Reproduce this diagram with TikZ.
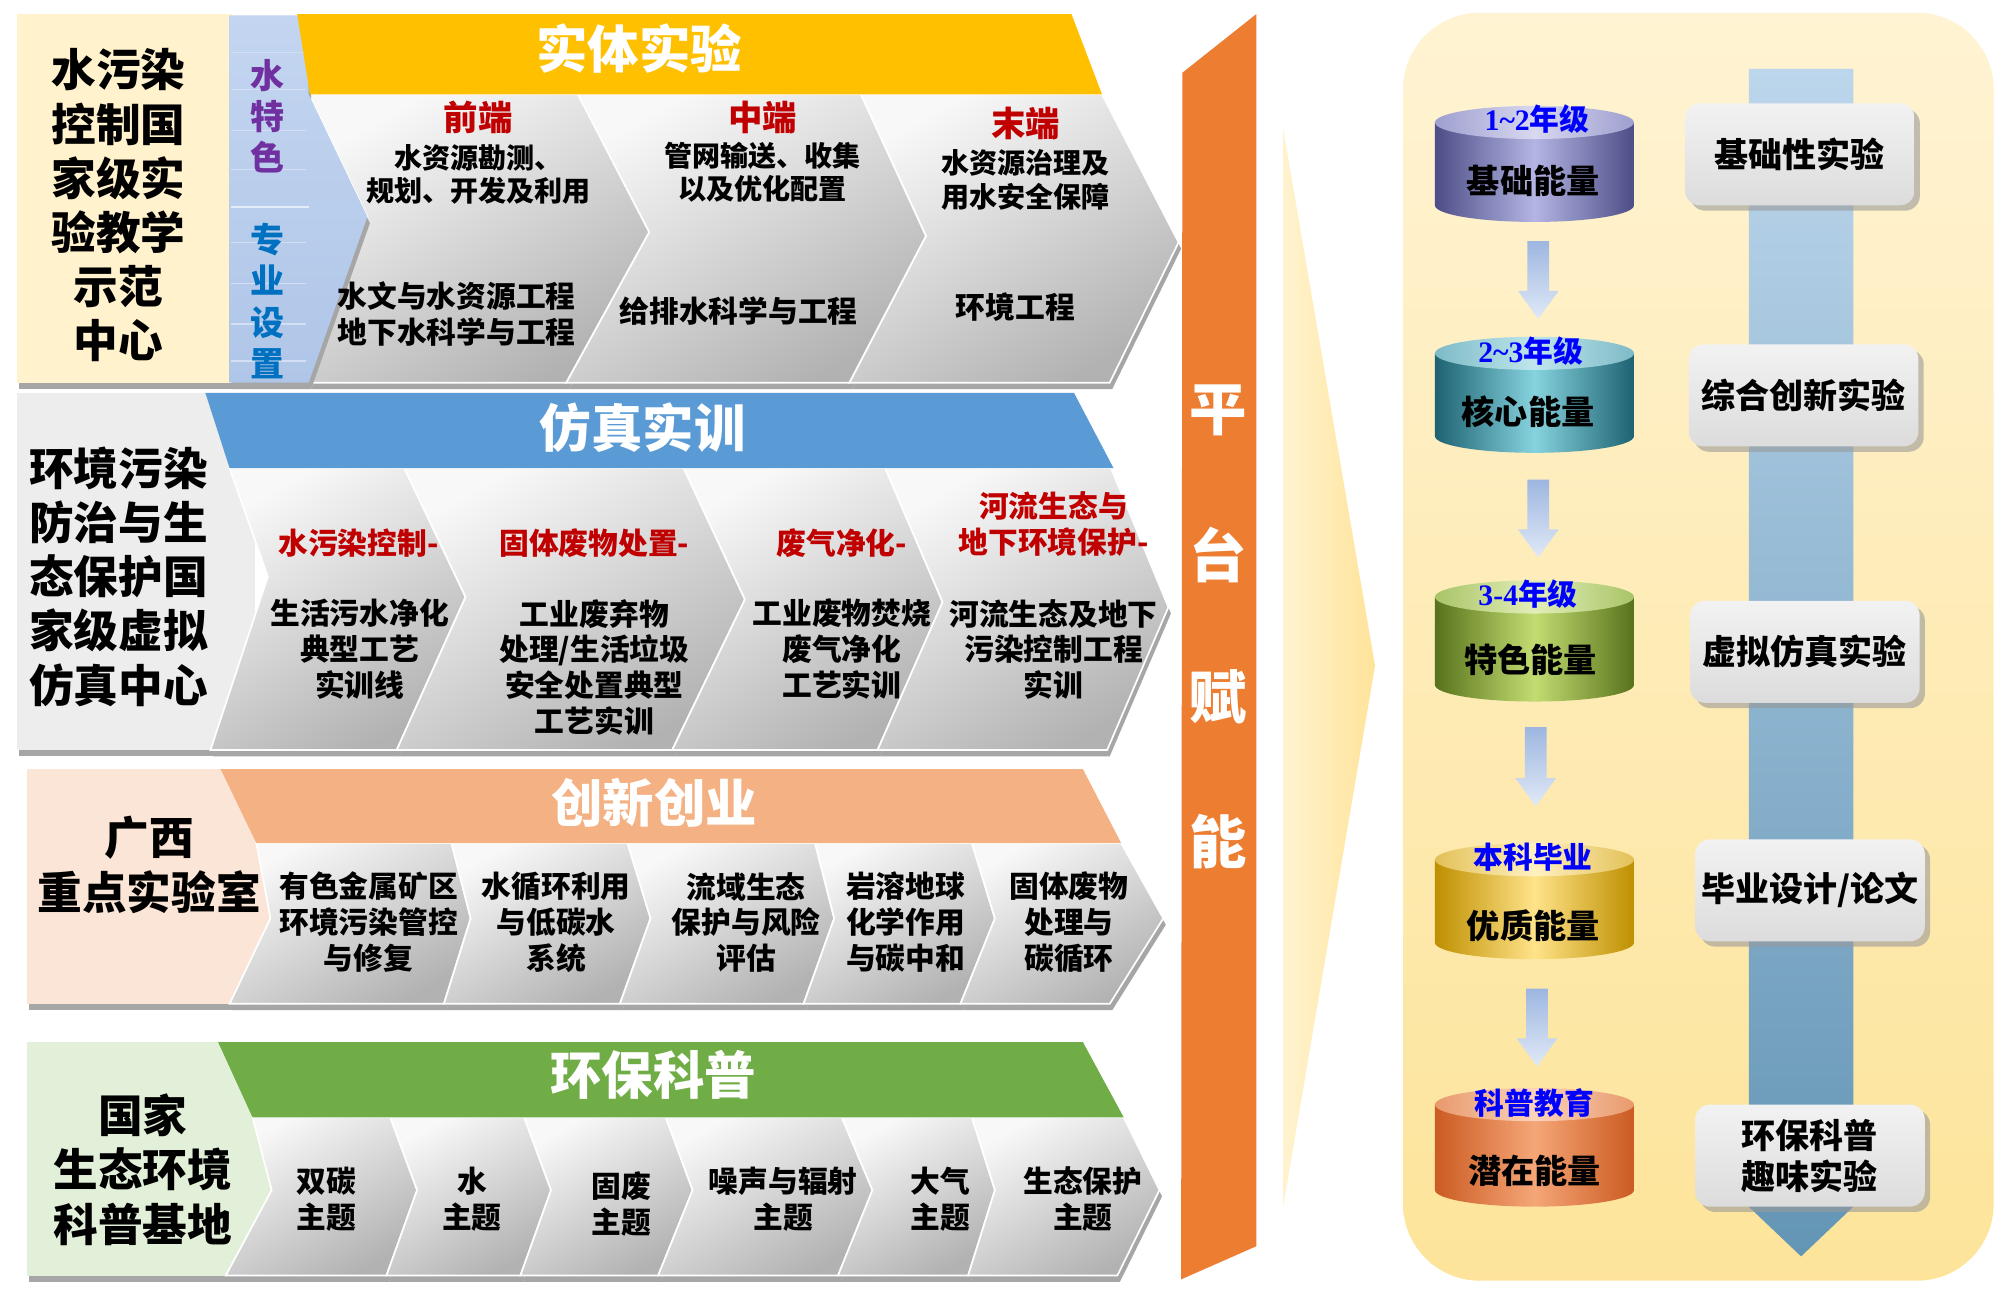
\documentclass[tikz,border=0pt]{standalone}
\usepackage{fontspec}
\newfontfamily\cjk{Noto Sans CJK SC}
\newfontfamily\numf{Liberation Serif}
\usetikzlibrary{shadows}
\definecolor{cream}{HTML}{FFF2CC}
\definecolor{stripTop}{HTML}{C3D5F0}
\definecolor{stripBot}{HTML}{B0C6E8}
\definecolor{lgray}{HTML}{EDEDED}
\definecolor{peach}{HTML}{FBE5D6}
\definecolor{lgreen}{HTML}{E2F0D9}
\definecolor{banyellow}{HTML}{FFC000}
\definecolor{banblue}{HTML}{5B9BD5}
\definecolor{banpeach}{HTML}{F4B183}
\definecolor{bangreen}{HTML}{70AD47}
\definecolor{myred}{HTML}{C00000}
\definecolor{mypurple}{HTML}{7030A0}
\definecolor{myblue}{HTML}{0070C0}
\definecolor{yearblue}{HTML}{0000FF}
\definecolor{barorange}{HTML}{ED7D31}
\definecolor{chevlight}{HTML}{F8F8F8}
\definecolor{chevdark}{HTML}{B2B2B2}
\definecolor{shadowgray}{HTML}{A6A6A6}
\definecolor{panelTop}{HTML}{FFF3D3}
\definecolor{panelBot}{HTML}{FDE49A}
\definecolor{wedgeL}{HTML}{FFF3CF}
\definecolor{wedgeR}{HTML}{FFE39A}
\definecolor{bandTop}{HTML}{BCD6EC}
\definecolor{bandBot}{HTML}{6395B5}
\definecolor{arrTop}{HTML}{9DB6E0}
\definecolor{arrBot}{HTML}{E0E9F7}
\definecolor{boxTop}{HTML}{F2F2F2}
\definecolor{boxBot}{HTML}{DCDCDC}
\tikzset{
  every node/.style={inner sep=0pt, align=center},
  chev/.style={top color=chevlight, bottom color=chevdark, shading angle=30, draw=white, line width=0.8pt},
  body/.style={font=\cjk\bfseries\fontsize{14}{16.8}\selectfont, text=black},
  bodyb/.style={font=\cjk\bfseries\fontsize{13.2}{15.6}\selectfont, text=black},
  redhead/.style={font=\cjk\bfseries\fontsize{16.2}{18}\selectfont, text=myred},
  lefttxt/.style={font=\cjk\bfseries\fontsize{21}{25.5}\selectfont, text=black},
  bantxt/.style={font=\cjk\bfseries\fontsize{24.2}{28}\selectfont, text=white},
  striptxt/.style={font=\cjk\bfseries\fontsize{16}{19.4}\selectfont},
  bartxt/.style={font=\cjk\bfseries\fontsize{27}{30}\selectfont, text=white},
  cyltxt/.style={font=\cjk\bfseries\fontsize{15.6}{18}\selectfont, text=black},
  yeartxt/.style={font=\cjk\bfseries\fontsize{14}{16}\selectfont, text=yearblue},
  rbox/.style={font=\cjk\bfseries\fontsize{16}{19.2}\selectfont, text=black,
    rounded corners=7pt, top color=boxTop, bottom color=boxBot,
    minimum width=108pt, minimum height=48pt,
    drop shadow={shadow xshift=2.5pt, shadow yshift=-2.5pt, fill=black!40, opacity=0.6}},
}
\newcommand\chevron[1]{\fill[shadowgray,shift={(2,-5)}] #1 -- cycle; \path[chev] #1 -- cycle;}
\newcommand\cyl[6]{%
  \definecolor{cyE}{HTML}{#3}\definecolor{cyM}{HTML}{#4}\definecolor{cyL}{HTML}{#5}\definecolor{cyT}{HTML}{#6}%
  \path[left color=cyE, right color=cyE, middle color=cyM] (1125,-#1-13) -- (1125,-#2+13) arc[start angle=180,end angle=360,x radius=78,y radius=13] -- (1281,-#1-13) -- cycle;
  \path[left color=cyT, right color=cyT, middle color=cyL] (1203,-#1-13) ellipse[x radius=78, y radius=13];
}
\newcommand\dnarrow[3]{\path[top color=arrTop, bottom color=arrBot] (#1-8.5,-#2) -- (#1+8.5,-#2) -- (#1+8.5,-#3+22) -- (#1+16,-#3+22) -- (#1,-#3) -- (#1-16,-#3+22) -- (#1-8.5,-#3+22) -- cycle;}
\begin{document}
\begin{tikzpicture}[x=0.6pt,y=0.6pt]
\useasboundingbox (0,0) rectangle (1568,-1012);
\fill[white] (0,0) rectangle (1568,-1012);

% ================= ROW 1 =================
\fill[shadowgray] (15,-14) rectangle (184,-305);
\fill[cream] (13,-11) rectangle (182,-300);
\chevron{(242,-74) -- (453,-74) -- (509,-182) -- (444,-300) -- (242,-300) -- (288,-170)}
\chevron{(453,-74) -- (675,-74) -- (726,-185) -- (666,-300) -- (444,-300) -- (509,-182)}
\chevron{(675,-74) -- (864,-74) -- (924,-190) -- (870,-300) -- (666,-300) -- (726,-185)}
\fill[shadowgray, shift={(2,-5)}] (180,-12) -- (242,-12) -- (242,-74) -- (288,-170) -- (242,-300) -- (180,-300) -- cycle;
\path[top color=stripTop, bottom color=stripBot] (180,-12) -- (242,-12) -- (242,-74) -- (288,-170) -- (242,-300) -- (180,-300) -- cycle;
\foreach \yy in {41,70,102,133,190,222,254,283} \draw[white!25!stripTop, line width=0.5pt] (181,-\yy) -- (240,-\yy);
\draw[white!55!stripTop, line width=1pt] (181,-162) -- (242,-162);
\fill[banyellow] (233,-11) -- (840,-11) -- (864,-74) -- (243,-74) -- cycle;

\node[lefttxt] (L1) at (93,-161) {水污染\\控制国\\家级实\\验教学\\示范\\中心};
\node[striptxt, text=mypurple] (S1) at (210,-91) {水\\特\\色};
\node[striptxt, text=myblue] (S2) at (210,-236) {专\\业\\设\\置};
\node[bantxt] (T1) at (501,-38) {实体实验};
\node[redhead] (h11) at (375,-92) {前端};
\node[bodyb] (b11) at (375,-137) {水资源勘测、\\规划、开发及利用};
\node[redhead] (h12) at (598,-92) {中端};
\node[bodyb] (b12) at (598,-135) {管网输送、收集\\以及优化配置};
\node[redhead] (h13) at (804,-97) {末端};
\node[bodyb] (b13) at (804,-141) {水资源治理及\\用水安全保障};
\node[body] (b14) at (358,-246) {水文与水资源工程\\地下水科学与工程};
\node[body] (b15) at (579,-244) {给排水科学与工程};
\node[body] (b16) at (796,-241) {环境工程};

% ================= ROW 2 =================
\fill[shadowgray] (15,-311) rectangle (200,-593);
\fill[lgray] (13,-308) rectangle (200,-588);
\chevron{(180,-367) -- (317,-367) -- (365,-468) -- (311,-588) -- (165,-588) -- (210,-452)}
\chevron{(317,-367) -- (536,-367) -- (584,-470) -- (527,-588) -- (311,-588) -- (365,-468)}
\chevron{(536,-367) -- (694,-367) -- (739,-472) -- (688,-588) -- (527,-588) -- (584,-470)}
\chevron{(694,-367) -- (871,-367) -- (916,-476) -- (868,-588) -- (688,-588) -- (739,-472)}
\fill[banblue] (161,-308) -- (842,-308) -- (873,-367) -- (180,-367) -- cycle;

\node[lefttxt] (L2) at (93,-452) {环境污染\\防治与生\\态保护国\\家级虚拟\\仿真中心};
\node[bantxt] (T2) at (504,-335) {仿真实训};
\node[body, text=myred] (h21) at (281,-426) {水污染控制-};
\node[body] (b21) at (282,-509) {生活污水净化\\典型工艺\\实训线};
\node[body, text=myred] (h22) at (466,-426) {固体废物处置-};
\node[body] (b22) at (466,-523) {工业废弃物\\处理/生活垃圾\\安全处置典型\\工艺实训};
\node[body, text=myred] (h23) at (660,-426) {废气净化-};
\node[body] (b23) at (660,-509) {工业废物焚烧\\废气净化\\工艺实训};
\node[body, text=myred] (h24) at (826,-411) {河流生态与\\地下环境保护-};
\node[body] (b24) at (826,-509) {河流生态及地下\\污染控制工程\\实训};

% ================= ROW 3 =================
\fill[shadowgray] (23,-606) rectangle (215,-792);
\fill[peach] (21,-603) rectangle (215,-787);
\chevron{(201,-661) -- (354,-661) -- (369,-720) -- (348,-787) -- (180,-787) -- (212,-720)}
\chevron{(354,-661) -- (492,-661) -- (510,-720) -- (486,-787) -- (348,-787) -- (369,-720)}
\chevron{(492,-661) -- (639,-661) -- (654,-720) -- (630,-787) -- (486,-787) -- (510,-720)}
\chevron{(639,-661) -- (762,-661) -- (780,-720) -- (753,-787) -- (630,-787) -- (654,-720)}
\chevron{(762,-661) -- (879,-661) -- (912,-720) -- (870,-787) -- (753,-787) -- (780,-720)}
\fill[banpeach] (173,-603) -- (849,-603) -- (879,-661) -- (201,-661) -- cycle;

\node[lefttxt] (L3) at (117,-678) {广西\\重点实验室};
\node[bantxt] (T3) at (513,-629) {创新创业};
\node[body] (b31) at (289,-723) {有色金属矿区\\环境污染管控\\与修复};
\node[body] (b32) at (436,-723) {水循环利用\\与低碳水\\系统};
\node[body] (b33) at (585,-723) {流域生态\\保护与风险\\评估};
\node[body] (b34) at (710,-723) {岩溶地球\\化学作用\\与碳中和};
\node[body] (b35) at (838,-723) {固体废物\\处理与\\碳循环};

% ================= ROW 4 =================
\fill[shadowgray] (23,-820) rectangle (215,-1005);
\fill[lgreen] (21,-817) rectangle (215,-1000);
\chevron{(198,-876) -- (306,-876) -- (327,-933) -- (303,-1000) -- (177,-1000) -- (213,-933)}
\chevron{(306,-876) -- (411,-876) -- (432,-933) -- (408,-1000) -- (303,-1000) -- (327,-933)}
\chevron{(411,-876) -- (522,-876) -- (543,-933) -- (516,-1000) -- (408,-1000) -- (432,-933)}
\chevron{(522,-876) -- (660,-876) -- (684,-933) -- (657,-1000) -- (516,-1000) -- (543,-933)}
\chevron{(660,-876) -- (762,-876) -- (780,-933) -- (759,-1000) -- (657,-1000) -- (684,-933)}
\chevron{(762,-876) -- (881,-876) -- (909,-933) -- (876,-1000) -- (759,-1000) -- (780,-933)}
\fill[bangreen] (171,-817) -- (849,-817) -- (881,-876) -- (198,-876) -- cycle;

\node[lefttxt] (L4) at (112,-917) {国家\\生态环境\\科普基地};
\node[bantxt] (T4) at (512,-843) {环保科普};
\node[body] (b41) at (256,-940) {双碳\\主题};
\node[body] (b42) at (370,-940) {水\\主题};
\node[body] (b43) at (487,-944) {固废\\主题};
\node[body] (b44) at (614,-940) {噪声与辐射\\主题};
\node[body] (b45) at (737,-940) {大气\\主题};
\node[body] (b46) at (849,-940) {生态保护\\主题};

% ================= ORANGE BAR =================
\fill[barorange] (927,-57) -- (985,-11) -- (985,-977) -- (926,-1003) -- cycle;
\node[bartxt] (p1) at (955,-322) {平};
\node[bartxt] (p2) at (955,-435) {台};
\node[bartxt] (p3) at (955,-546) {赋};
\node[bartxt] (p4) at (955,-660) {能};

% ================= WEDGE =================
\path[left color=wedgeL, right color=wedgeR] (1006,-101) -- (1078,-522) -- (1006,-946) -- cycle;

% ================= RIGHT PANEL =================
\path[top color=panelTop, bottom color=panelBot, rounded corners=36pt] (1100,-10) rectangle (1563,-1004);
\path[top color=bandTop, bottom color=bandBot] (1371,-54) -- (1453,-54) -- (1453,-946) -- (1412,-985) -- (1371,-946) -- cycle;

\cyl{83}{174}{4D4E87}{B4B5E3}{D8D8F0}{9E9FCF}
\cyl{264}{355}{1E6272}{86D3DE}{BFE6EC}{7DBAC6}
\cyl{455}{550}{58721C}{C3DD72}{E2EEB8}{A9C467}
\cyl{661}{752}{BE8F00}{FFE38A}{FFF1C0}{E3C158}
\cyl{853}{946}{CB5B22}{F5A677}{FBD3BA}{E8996C}

\dnarrow{1206}{189}{250}
\dnarrow{1206}{376}{437}
\dnarrow{1204}{570}{632}
\dnarrow{1205}{775}{836}

\node[yeartxt] (y1) at (1205,-93) {{\numf\bfseries 1\textasciitilde 2}年级};
\node[yeartxt] (y2) at (1200,-275) {{\numf\bfseries 2\textasciitilde 3}年级};
\node[yeartxt] (y3) at (1198,-466) {{\numf\bfseries 3-4}年级};
\node[yeartxt] (y4) at (1202,-672) {本科毕业};
\node[yeartxt] (y5) at (1203,-865) {科普教育};
\node[cyltxt] (c1) at (1202,-142) {基础能量};
\node[cyltxt] (c2) at (1198,-323) {核心能量};
\node[cyltxt] (c3) at (1200,-517) {特色能量};
\node[cyltxt] (c4) at (1202,-726) {优质能量};
\node[cyltxt] (c5) at (1203,-918) {潜在能量};

\node[rbox] (r1) at (1411,-121) {基础性实验};
\node[rbox] (r2) at (1414,-310) {综合创新实验};
\node[rbox] (r3) at (1415,-511) {虚拟仿真实验};
\node[rbox] (r4) at (1419,-698) {毕业设计/论文};
\node[rbox] (r5) at (1419,-906) {环保科普\\趣味实验};
\end{tikzpicture}
\end{document}
